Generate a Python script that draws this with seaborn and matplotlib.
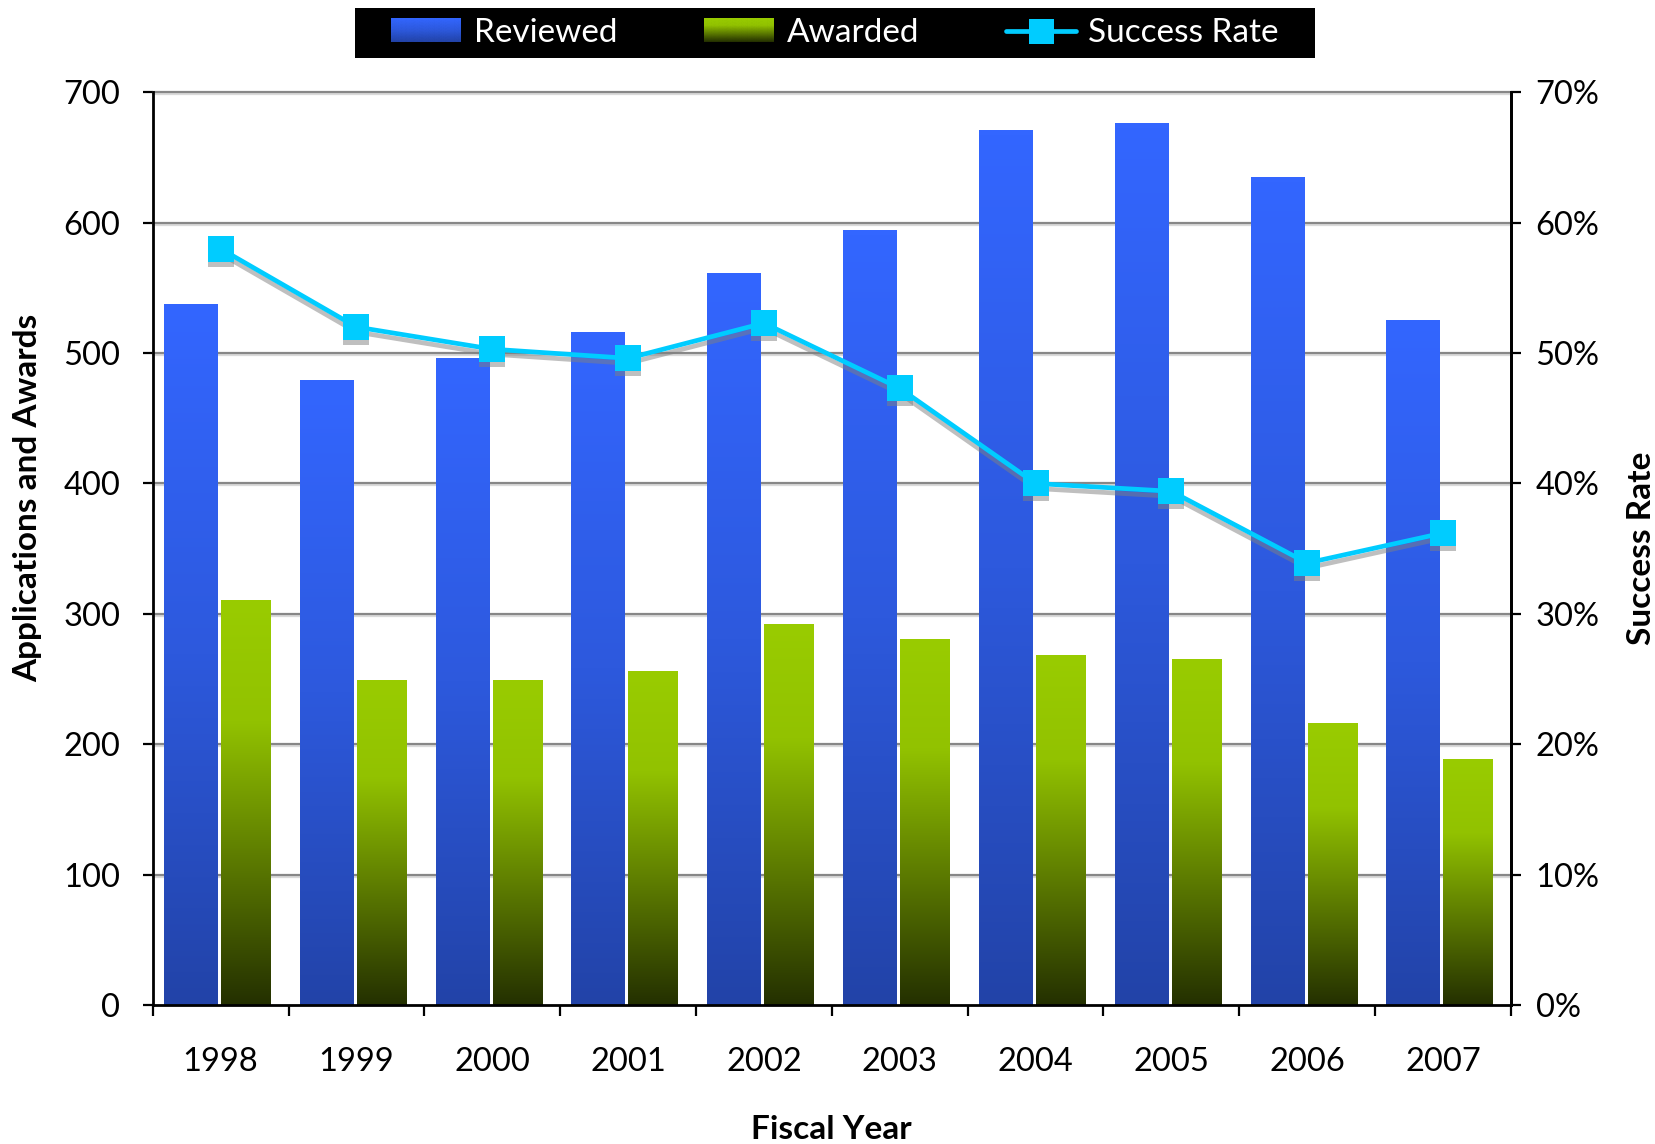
import numpy as np
import pandas as pd
import matplotlib
matplotlib.use("Agg")
import matplotlib.pyplot as plt
import seaborn as sns
from matplotlib.colors import LinearSegmentedColormap
from matplotlib.patches import Rectangle, Patch
from matplotlib.lines import Line2D
from matplotlib.legend_handler import HandlerBase
from matplotlib.image import BboxImage
from matplotlib.transforms import Bbox, TransformedBbox, ScaledTranslation
from matplotlib.ticker import PercentFormatter, FixedLocator, NullFormatter

# ---- data -------------------------------------------------------------
years = ["1998", "1999", "2000", "2001", "2002", "2003", "2004", "2005", "2006", "2007"]
reviewed = [537, 479, 496, 516, 561, 594, 671, 676, 635, 525]
awarded = [310, 249, 249, 256, 292, 280, 268, 265, 216, 188]
success_rate = [58.0, 52.0, 50.3, 49.6, 52.3, 47.3, 40.0, 39.4, 33.9, 36.2]  # percent

series_names = ["Reviewed", "Awarded"]

df = pd.DataFrame({
    "year": years * 2,
    "series": [series_names[0]] * len(years) + [series_names[1]] * len(years),
    "value": reviewed + awarded,
})

# ---- style ------------------------------------------------------------
sns.set_theme(style="white")
plt.rcParams["font.family"] = ["Lato", "DejaVu Sans"]
plt.rcParams.update({"text.color": "black", "axes.labelcolor": "black",
                     "xtick.color": "black", "ytick.color": "black"})

BLUE_TOP, GREEN_TOP, CYAN = "#3366FF", "#99CC00", "#00CCFF"
blue_cmap = LinearSegmentedColormap.from_list(
    "blue_grad", [(0.0, "#2243A8"), (0.5, "#2D59DD"), (1.0, BLUE_TOP)])
green_cmap = LinearSegmentedColormap.from_list(
    "green_grad", [(0.0, "#243000"), (0.7, "#92C200"), (1.0, GREEN_TOP)])

TICK_FS = 23.5
LABEL_FS = 24

fig = plt.figure(figsize=(16.56, 11.44), dpi=100)
ax = fig.add_axes([0.0922, 0.1215, 0.8202, 0.7978])

sns.barplot(data=df, x="year", y="value", hue="series", hue_order=series_names,
            palette=[BLUE_TOP, GREEN_TOP], width=0.79, gap=0.03,
            legend=False, ax=ax, zorder=2)

ax.set_xlim(-0.5, len(years) - 0.5)
ax.set_ylim(0, 700)
ax.set_autoscale_on(False)

# per-series bar geometry within each year slot: (offset from slot centre, width)
bar_geom = {"rev": (-0.417, 0.396), "awd": (0.003, 0.368)}

# vertical gradient fill for each bar
grad = np.linspace(0, 1, 256).reshape(-1, 1)
for p in list(ax.patches):
    x0, w, h = p.get_x(), p.get_width(), p.get_height()
    cx = x0 + w / 2
    slot = round(cx)
    kind = "rev" if cx < slot else "awd"
    off, bw = bar_geom[kind]
    p.set_x(slot + off)
    p.set_width(bw)
    x0, w = p.get_x(), p.get_width()
    cmap = blue_cmap if kind == "rev" else green_cmap
    ax.imshow(grad, cmap=cmap, extent=(x0, x0 + w, 0, h), origin="lower",
              aspect="auto", interpolation="bicubic", zorder=2)
    p.set_facecolor("none")
    p.set_edgecolor("none")

# gridlines with a faint shadow line underneath
grid_shadow = ax.get_yaxis_transform() + ScaledTranslation(0, -2 / 100, fig.dpi_scale_trans)
for yv in range(100, 701, 100):
    ax.plot([0, 1], [yv, yv], color="#DADADA", lw=1.6, zorder=0.6,
            transform=grid_shadow, clip_on=False)
    ax.plot([0, 1], [yv, yv], color="#878787", lw=1.6, zorder=0.7,
            transform=ax.get_yaxis_transform(), clip_on=False)

# axes styling
for side in ["left", "bottom", "right"]:
    ax.spines[side].set_visible(True)
    ax.spines[side].set_color("black")
    ax.spines[side].set_linewidth(2)
ax.spines["top"].set_visible(False)

ax.set_yticks(range(0, 701, 100))
ax.tick_params(axis="y", which="major", direction="out", length=7.2, width=1.6,
               pad=16, labelsize=TICK_FS, colors="black", left=True)
ax.set_xticks(range(len(years)))
ax.set_xticklabels(years)
ax.tick_params(axis="x", which="major", length=0, pad=30, labelsize=TICK_FS,
               colors="black")
ax.xaxis.set_minor_locator(FixedLocator(np.arange(-0.5, len(years), 1.0)))
ax.xaxis.set_minor_formatter(NullFormatter())
ax.tick_params(axis="x", which="minor", direction="out", length=8, width=1.6,
               bottom=True, color="black")

ax.set_xlabel("Fiscal Year", fontsize=LABEL_FS, fontweight="bold", color="black")
ax.xaxis.set_label_coords(0.5, -0.121)
ax.set_ylabel("Applications and Awards", fontsize=LABEL_FS, fontweight="bold", color="black")
ax.yaxis.set_label_coords(-0.0815, 0.5555)

# ---- success rate on the secondary axis ---------------------------------
ax2 = ax.twinx()
ax2.set_ylim(0, 70)
positions = np.arange(len(years))

shadow = ax2.transData + ScaledTranslation(0, -5 / 100, fig.dpi_scale_trans)
ax2.plot(positions, success_rate, color="#808080", alpha=0.5, lw=3.4,
         marker="s", markersize=19, markeredgewidth=0, transform=shadow, zorder=3)
sns.lineplot(x=positions, y=success_rate, ax=ax2, color=CYAN, lw=3.4,
             marker="s", markersize=19, markeredgewidth=0, zorder=4)

ax2.set_xlim(-0.5, len(years) - 0.5)
ax2.set_yticks(range(0, 71, 10))
ax2.yaxis.set_major_formatter(PercentFormatter(100, decimals=0))
ax2.tick_params(axis="y", direction="out", length=7.2, width=1.6, pad=10.5,
                labelsize=TICK_FS, colors="black", right=True)
for side in ["left", "bottom", "top"]:
    ax2.spines[side].set_visible(False)
ax2.spines["right"].set_color("black")
ax2.spines["right"].set_linewidth(2)
ax2.grid(False)
ax2.set_ylabel("Success Rate", fontsize=LABEL_FS, fontweight="bold", rotation=90,
               color="black")
ax2.yaxis.set_label_coords(1.0854, 0.5)


# ---- legend -------------------------------------------------------------
class GradientHandler(HandlerBase):
    def __init__(self, cmap):
        super().__init__()
        self.cmap = cmap

    def create_artists(self, legend, orig_handle, xdescent, ydescent,
                       width, height, fontsize, trans):
        bb = TransformedBbox(Bbox.from_bounds(-xdescent, -ydescent, width, height), trans)
        img = BboxImage(bb, cmap=self.cmap, interpolation="bicubic", origin="lower")
        img.set_data(np.linspace(0, 1, 64).reshape(-1, 1))
        return [img]


h_rev = Patch(facecolor=BLUE_TOP, label=series_names[0])
h_awd = Patch(facecolor=GREEN_TOP, label=series_names[1])
h_rate = Line2D([], [], color=CYAN, lw=3.4, marker="s", markersize=18,
                markeredgewidth=0, label="Success Rate")

fig.add_artist(Rectangle((0.2144, 0.9493), 0.5797, 0.0433, transform=fig.transFigure,
                         facecolor="black", edgecolor="none", zorder=1))
fig.legend(handles=[h_rev, h_awd, h_rate],
           handler_map={h_rev: GradientHandler(blue_cmap), h_awd: GradientHandler(green_cmap)},
           loc="center", bbox_to_anchor=(0.5042, 0.9709), ncol=3, frameon=False,
           fontsize=24, labelcolor="white", handlelength=2.1, handleheight=0.7,
           handletextpad=0.38, columnspacing=2.6, borderpad=0.0)

fig.savefig("out.png", dpi=100)
